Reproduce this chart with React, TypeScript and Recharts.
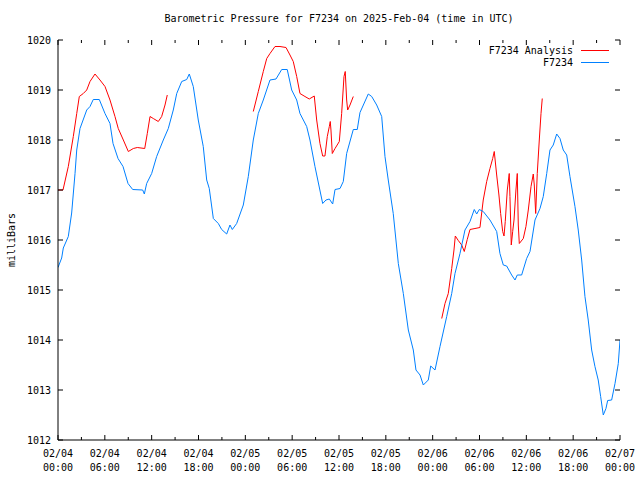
import { LineChart, Line, XAxis, YAxis } from "recharts";

// hours since 02/04 00:00 UTC
const blueHours = [
  0, 0.47, 0.68, 1.32, 1.75, 2.18, 2.4, 2.82, 3.68, 4.1, 4.52, 5.29, 6.02, 6.66, 7.05, 7.69, 8.33, 8.97, 9.57,
  10.85, 11.06, 11.36, 12.0, 12.64, 13.49, 14.13, 14.77, 15.21, 15.85, 16.49, 16.82, 17.33, 17.97, 18.61, 19.05,
  19.38, 19.9, 20.54, 20.97, 21.61, 22.03, 22.33, 22.89, 23.74, 24.38, 25.02, 25.66, 26.3, 27.16, 27.93, 28.66,
  29.37, 29.94, 30.58, 31.0, 31.86, 32.28, 32.92, 33.91, 34.33, 34.76, 35.19, 35.49, 36.13, 36.55, 36.98, 37.83,
  38.34, 38.69, 39.75, 40.19, 40.83, 41.47, 41.89, 42.31, 42.95, 43.6, 44.24, 44.88, 45.52, 45.86, 46.38, 46.8,
  47.44, 47.75, 48.3, 48.94, 49.8, 50.44, 50.86, 51.5, 52.14, 52.78, 53.33, 53.64, 53.97, 54.48, 55.34, 56.2,
  56.62, 57.05, 57.48, 58.12, 58.55, 58.84, 59.4, 60.04, 60.47, 61.11, 61.75, 62.17, 62.61, 63.03, 63.45, 63.89,
  64.31, 64.73, 65.17, 65.59, 66.23, 66.65, 67.09, 67.51, 67.93, 68.37, 68.79, 69.21, 69.52, 69.86, 70.2, 70.42,
  70.93, 71.36, 71.78, 72.0,
];
const blueMb = [
  1015.45, 1015.64, 1015.84, 1016.07, 1016.54, 1017.33, 1017.8, 1018.23, 1018.6, 1018.67, 1018.81, 1018.81,
  1018.53, 1018.33, 1017.93, 1017.63, 1017.47, 1017.13, 1017.01, 1017.0, 1016.92, 1017.13, 1017.33, 1017.67,
  1018.0, 1018.23, 1018.6, 1018.93, 1019.17, 1019.21, 1019.32, 1019.07, 1018.4, 1017.87, 1017.2, 1017.03,
  1016.43, 1016.33, 1016.21, 1016.12, 1016.3, 1016.21, 1016.33, 1016.7, 1017.27, 1018.0, 1018.53, 1018.8,
  1019.2, 1019.22, 1019.41, 1019.41, 1019.0, 1018.8, 1018.53, 1018.27, 1018.0, 1017.47, 1016.73, 1016.8,
  1016.82, 1016.72, 1017.01, 1017.03, 1017.17, 1017.73, 1018.21, 1018.21, 1018.55, 1018.92, 1018.87, 1018.7,
  1018.47, 1017.67, 1017.2, 1016.53, 1015.53, 1014.93, 1014.2, 1013.8, 1013.4, 1013.3, 1013.1, 1013.2, 1013.48,
  1013.4, 1013.87, 1014.47, 1014.93, 1015.33, 1015.73, 1016.2, 1016.37, 1016.61, 1016.52, 1016.61, 1016.57,
  1016.4, 1016.17, 1015.73, 1015.5, 1015.48, 1015.3, 1015.2, 1015.3, 1015.3, 1015.63, 1015.77, 1016.4, 1016.63,
  1016.87, 1017.33, 1017.8, 1017.9, 1018.12, 1018.03, 1017.8, 1017.7, 1017.27, 1016.67, 1016.2, 1015.6,
  1014.87, 1014.4, 1013.8, 1013.47, 1013.2, 1012.87, 1012.5, 1012.63, 1012.79, 1012.8, 1013.13, 1013.53,
  1014.0,
];

// analysis series, null marks a gap in the data
const redHours = [
  0, 0.64, 1.32, 1.96, 2.4, 2.73, 3.24, 3.68, 4.1, 4.74, 5.38, 6.02, 6.66, 7.3, 7.72, 8.37, 9.01, 9.65, 10.16,
  11.11, 11.44, 11.79, 12.21, 12.85, 13.28, 13.71, 14.0,
  19.5,
  25.02, 25.66, 26.3, 26.74, 27.16, 27.8, 28.44, 29.21, 29.72, 30.14, 30.58, 31.0, 31.64, 32.19, 32.83, 33.14,
  33.56, 33.91, 34.2, 34.5, 34.76, 34.88, 34.97, 35.14, 35.49, 36.04, 36.34, 36.64, 36.8, 36.98, 37.11, 37.41,
  37.83,
  43.5,
  49.16, 49.58, 50.0, 50.44, 50.73, 50.9, 51.28, 51.72, 52.05, 52.43, 52.78, 53.42, 54.06, 54.48, 54.92, 55.34,
  55.69, 55.89, 56.2, 56.49, 56.71, 56.97, 57.14, 57.3, 57.56, 57.81, 57.9, 58.07, 58.25, 58.42, 58.67, 58.84,
  58.97, 59.1, 59.61, 59.95, 60.25, 60.6, 60.89, 61.02, 61.2, 61.4, 61.66, 61.88, 62.04,
];
const redMb = [
  1017.0, 1017.0, 1017.47, 1018.07, 1018.53, 1018.87, 1018.93, 1019.0, 1019.17, 1019.32, 1019.2, 1019.07,
  1018.8, 1018.47, 1018.23, 1018.0, 1017.77, 1017.83, 1017.85, 1017.83, 1018.13, 1018.47, 1018.43, 1018.37,
  1018.47, 1018.7, 1018.9,
  null,
  1018.57, 1018.97, 1019.37, 1019.63, 1019.73, 1019.87, 1019.87, 1019.85, 1019.7, 1019.57, 1019.27, 1018.93,
  1018.87, 1018.82, 1018.88, 1018.4, 1017.93, 1017.68, 1017.68, 1018.07, 1018.27, 1018.37, 1018.2, 1017.73,
  1017.83, 1017.97, 1018.53, 1019.27, 1019.37, 1018.8, 1018.6, 1018.7, 1018.87,
  null,
  1014.43, 1014.73, 1014.93, 1015.43, 1015.8, 1016.08, 1015.99, 1015.9, 1015.77, 1016.01, 1016.21, 1016.23,
  1016.25, 1016.8, 1017.17, 1017.43, 1017.63, 1017.77, 1017.3, 1016.9, 1016.53, 1016.17, 1016.08, 1016.37,
  1017.0, 1017.33, 1016.87, 1015.9, 1016.17, 1016.4, 1017.0, 1017.33, 1016.3, 1015.93, 1016.03, 1016.27,
  1016.6, 1017.07, 1017.32, 1017.1, 1016.53, 1017.33, 1018.0, 1018.53, 1018.83,
];

const xTicks = [0, 3, 6, 9, 12, 15, 18, 21, 24, 27, 30, 33, 36, 39, 42, 45, 48, 51, 54, 57, 60, 63, 66, 69, 72];
const xDates = ["02/04", "02/05", "02/06", "02/07"];
const yTicks = [1012, 1013, 1014, 1015, 1016, 1017, 1018, 1019, 1020];
const seriesNames = ["F7234 Analysis", "F7234"];
const seriesColors = ["#ff0000", "#0080ff"];

const FONT = "'DejaVu Sans Mono', monospace";
const TOP = 40;
const BOTTOM = 440;
const LEFT = 58;
const RIGHT = 620;

const blueData = blueHours.map((h, i) => ({ h, mb: blueMb[i] }));
const redData = redHours.map((h, i) => ({ h, mb: redMb[i] }));

function XTick({ x, payload }: any) {
  const v = payload.value as number;
  const major = v % 6 === 0;
  const len = major ? 5 : 3;
  const day = xDates[Math.floor(v / 24)];
  const hh = String(v % 24).padStart(2, "0");
  return (
    <g>
      <line x1={x} x2={x} y1={BOTTOM} y2={BOTTOM - len} stroke="#000" />
      <line x1={x} x2={x} y1={TOP} y2={TOP + len} stroke="#000" />
      {major && (
        <text x={x} y={BOTTOM + 17} textAnchor="middle" fontFamily={FONT} fontSize={10} fill="#000">
          {day}
        </text>
      )}
      {major && (
        <text x={x} y={BOTTOM + 31} textAnchor="middle" fontFamily={FONT} fontSize={10} fill="#000">
          {hh}:00
        </text>
      )}
    </g>
  );
}

function YTick({ y, payload }: any) {
  return (
    <g>
      <line x1={LEFT} x2={LEFT + 5} y1={y} y2={y} stroke="#000" />
      <line x1={RIGHT - 5} x2={RIGHT} y1={y} y2={y} stroke="#000" />
      <text x={51} y={y + 4} textAnchor="end" fontFamily={FONT} fontSize={10} fill="#000">
        {payload.value}
      </text>
    </g>
  );
}

function LegendBox() {
  return (
    <svg width={640} height={30} style={{ position: "absolute", left: 0, top: 43 }}>
      {seriesNames.map((name, i) => (
        <g key={name}>
          <text x={573} y={11 + i * 12} textAnchor="end" fontFamily={FONT} fontSize={10} fill="#000">
            {name}
          </text>
          <line x1={581} x2={609} y1={7.5 + i * 12} y2={7.5 + i * 12} stroke={seriesColors[i]} />
        </g>
      ))}
    </svg>
  );
}

export default function App() {
  return (
    <div style={{ position: "absolute", left: 0, top: 0, width: 640, height: 480, background: "#fff" }}>
      <div
        style={{
          position: "absolute",
          left: 58,
          width: 562,
          top: 12,
          textAlign: "center",
          fontFamily: FONT,
          fontSize: 10,
          lineHeight: "14px",
          color: "#000",
        }}
      >
        Barometric Pressure for F7234 on 2025-Feb-04 (time in UTC)
      </div>
      <LineChart width={640} height={480} margin={{ top: TOP, right: 640 - RIGHT, bottom: 0, left: 0 }}>
        <XAxis
          type="number"
          dataKey="h"
          domain={[0, 72]}
          ticks={xTicks}
          interval={0}
          height={40}
          tickLine={false}
          axisLine={{ stroke: "#000" }}
          tick={<XTick />}
          allowDataOverflow
        />
        <XAxis
          xAxisId="top"
          orientation="top"
          type="number"
          dataKey="h"
          domain={[0, 72]}
          height={0}
          tick={false}
          tickLine={false}
          axisLine={{ stroke: "#000" }}
        />
        <YAxis
          type="number"
          domain={[1012, 1020]}
          ticks={yTicks}
          interval={0}
          width={LEFT}
          tickLine={false}
          axisLine={{ stroke: "#000" }}
          tick={<YTick />}
          allowDataOverflow
          label={{
            value: "milliBars",
            angle: -90,
            position: "insideLeft",
            offset: 11,
            style: { fontFamily: FONT, fontSize: 10, fill: "#000", textAnchor: "middle" },
          }}
        />
        <YAxis
          yAxisId="right"
          orientation="right"
          type="number"
          domain={[1012, 1020]}
          width={0}
          tick={false}
          tickLine={false}
          axisLine={{ stroke: "#000" }}
        />
        <Line
          data={redData}
          dataKey="mb"
          name={seriesNames[0]}
          stroke={seriesColors[0]}
          strokeWidth={1}
          dot={false}
          isAnimationActive={false}
          type="linear"
        />
        <Line
          data={blueData}
          dataKey="mb"
          name={seriesNames[1]}
          stroke={seriesColors[1]}
          strokeWidth={1}
          dot={false}
          isAnimationActive={false}
          type="linear"
        />
      </LineChart>
      <LegendBox />
    </div>
  );
}
